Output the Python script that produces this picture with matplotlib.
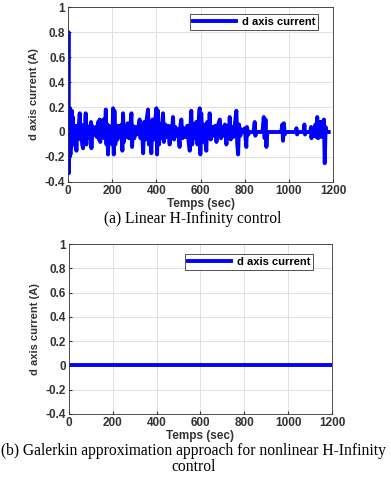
import matplotlib.pyplot as plt
from matplotlib.ticker import FuncFormatter

plt.rcParams['font.family'] = ['Liberation Sans', 'DejaVu Sans']

# linear H-infinity: d axis current (peak by peak)
t_lin = [0, 2, 3.5, 5, 7, 9, 11, 13, 15, 17, 19, 22, 25, 28, 31, 34, 38, 41, 44, 48,
         53, 56, 60, 64, 68, 71, 75, 80, 83, 86, 90, 95, 100, 104, 106, 109, 113, 118,
         125, 130, 136, 140, 143, 146, 150, 154, 160, 164, 168, 171, 174, 178, 181, 185,
         190, 196, 200, 204, 207, 210, 214, 218, 224, 230, 236, 242, 246, 249, 253, 258,
         264, 270, 276, 282, 287, 290, 294, 300, 306, 312, 318, 324, 328, 334, 340, 344,
         350, 356, 362, 366, 370, 377, 382, 388, 394, 400, 403, 407, 412, 418, 424, 430,
         434, 440, 446, 452, 460, 466, 470, 475, 480, 486, 492, 498, 505, 509, 513, 518,
         525, 532, 540, 546, 551, 555, 558, 562, 568, 574, 580, 586, 592, 596, 599, 603,
         608, 614, 620, 626, 630, 636, 641, 646, 652, 660, 666, 672, 678, 687, 692, 698,
         704, 710, 717, 722, 727, 732, 736, 742, 748, 755, 762, 766, 770, 774, 780, 786,
         792, 800, 807, 810, 816, 822, 840, 845, 848, 852, 880, 886, 890, 894, 898, 902,
         965, 970, 973, 977, 981, 985, 1030, 1034, 1037, 1040, 1066, 1070, 1073, 1076,
         1096, 1100, 1102, 1105, 1112, 1116, 1120, 1124, 1128, 1132, 1135, 1138, 1142,
         1146, 1150, 1154, 1158, 1162, 1166, 1170, 1180]
i_lin = [0, 0.8, -0.33, 0.19, -0.2, 0.19, -0.18, 0.15, -0.12, 0.17, -0.1, 0.12, -0.05, 0.05,
         -0.08, 0.04, -0.15, 0.05, -0.05, 0.03, 0.15, -0.06, 0.06, -0.1, -0.13, 0.05, -0.04,
         0.15, -0.1, 0.05, 0, 0.03, -0.05, 0.08, -0.13, 0.05, -0.03, 0, 0.04, -0.04, 0.08,
         -0.06, 0.1, -0.08, 0.09, -0.03, 0.1, -0.05, 0.05, 0.18, -0.1, 0.06, -0.18, 0.05,
         -0.05, 0.04, -0.1, 0.19, -0.18, 0.17, -0.1, 0.05, -0.06, 0.05, -0.03, 0.06, -0.15,
         0.15, -0.08, 0.04, -0.04, 0.07, -0.05, 0.05, 0.15, -0.12, 0.05, -0.05, 0.04, -0.02,
         0.03, 0.1, -0.05, 0.05, -0.17, 0.08, -0.06, 0.1, 0.18, -0.1, 0.08, -0.17, 0.1,
         -0.06, 0.08, 0.19, -0.18, 0.17, -0.1, 0.06, -0.05, 0.15, -0.08, 0.06, -0.04, 0.05,
         -0.1, 0.05, -0.03, 0.12, -0.06, 0.04, -0.03, 0.02, -0.12, 0.06, 0.1, -0.05, 0.03,
         -0.04, 0.05, -0.08, -0.15, 0.08, 0.17, -0.1, 0.06, -0.05, 0.08, -0.1, 0.1, 0.19,
         -0.18, 0.15, -0.08, 0.06, -0.05, -0.15, 0.08, -0.05, 0.15, -0.06, 0.04, -0.03, 0.05,
         -0.08, 0.05, 0.1, -0.05, 0.04, -0.03, 0.06, -0.1, 0.05, -0.04, 0.12, -0.06, 0.04,
         -0.04, 0.06, 0.17, -0.1, -0.18, 0.06, -0.03, 0.02, 0, 0.03, -0.12, 0.04, -0.02, 0,
         0, 0.08, -0.03, 0, 0, 0.12, -0.05, 0.1, -0.12, 0, 0, 0.06, -0.07, 0.07, -0.02, 0,
         0, 0.03, -0.02, 0, 0, 0.06, -0.02, 0, 0, 0.04, -0.05, 0, 0.03, -0.03, 0.06, -0.04,
         0.12, -0.05, 0.05, -0.03, 0.08, -0.04, 0.08, 0.02, 0.1, -0.25, 0.04, 0, 0]

# Galerkin approach: flat at zero
t_gal = [0, 1200]
i_gal = [0, 0]

captions = ['(a) Linear H-Infinity control',
            '(b) Galerkin approximation approach for nonlinear H-Infinity\ncontrol']

yticks = [-0.4, -0.2, 0, 0.2, 0.4, 0.6, 0.8, 1]
xticks = [0, 200, 400, 600, 800, 1000, 1200]

fig = plt.figure(figsize=(3.91, 4.8), dpi=100)
ax1 = fig.add_axes([0.174, 0.621, 0.678, 0.364])
ax2 = fig.add_axes([0.176, 0.1375, 0.673, 0.354])

fmt = FuncFormatter(lambda v, p: '%g' % round(v, 2))
leg_pos = [(0.943, 0.96), (0.928, 0.941)]
for k, (ax, t, y) in enumerate([(ax1, t_lin, i_lin), (ax2, t_gal, i_gal)]):
    ax.plot(t, y, color='#0000ff', lw=2.8, label='d axis current')
    ax.set_xlim(0, 1200)
    ax.set_ylim(-0.4, 1)
    ax.set_xticks(xticks)
    ax.set_yticks(yticks)
    ax.yaxis.set_major_formatter(fmt)
    ax.grid(True, color='#e0e0e0', lw=0.7)
    ax.tick_params(direction='in', length=2, labelsize=8.5, colors='#333333', pad=2)
    for lb in ax.get_xticklabels() + ax.get_yticklabels():
        lb.set_fontweight('bold')
    for s in ax.spines.values():
        s.set_color('#333333')
        s.set_linewidth(0.6)
    ax.set_xlabel('Temps (sec)', fontsize=8.5, fontweight='bold', color='#333333', labelpad=1)
    ax.set_ylabel('d axis current (A)', fontsize=8, fontweight='bold', color='#333333', labelpad=4)
    leg = ax.legend(loc='upper right', bbox_to_anchor=leg_pos[k], borderaxespad=0,
                    handlelength=3.9, handletextpad=0.5, borderpad=0.25, fancybox=False,
                    framealpha=1, prop={'weight': 'bold', 'size': 8})
    leg.get_frame().set_edgecolor('#333333')
    leg.get_frame().set_linewidth(0.6)

fig.text(0.494, 0.543, captions[0], ha='center', va='center', fontsize=11.2,
         family='Liberation Serif')
fig.text(0.495, 0.043, captions[1], ha='center', va='center', fontsize=11.2,
         family='Liberation Serif', linespacing=1.0)

fig.savefig('out.png', dpi=100)
